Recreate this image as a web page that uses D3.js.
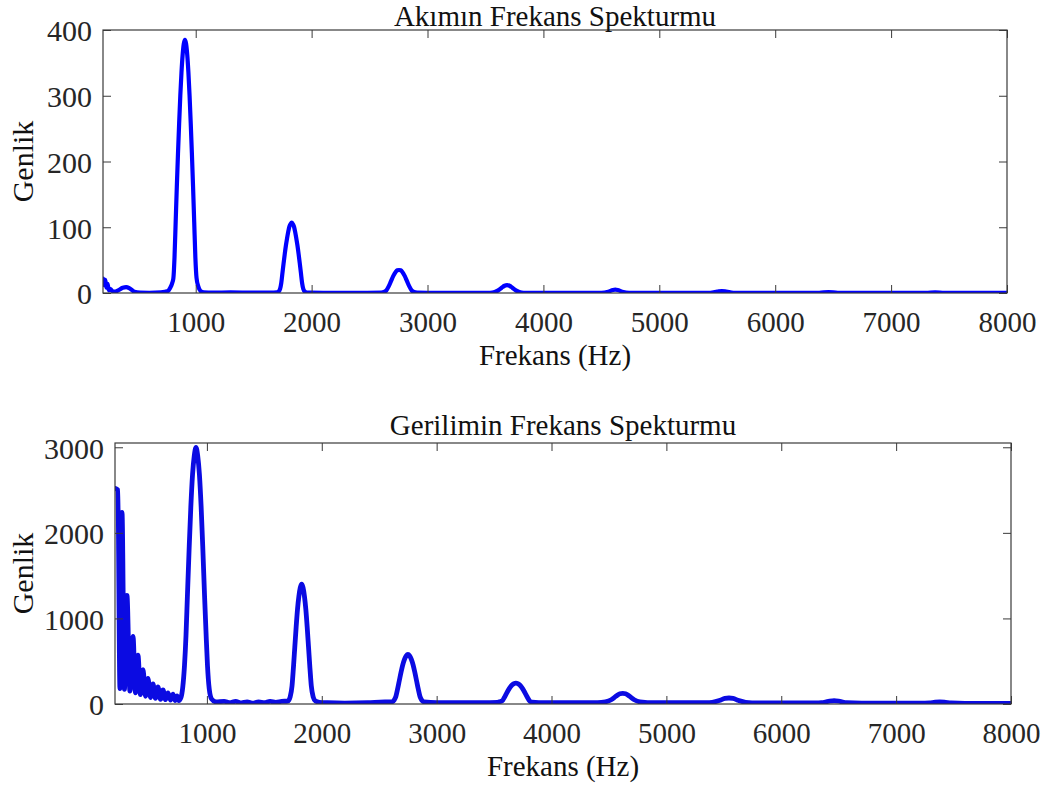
<!DOCTYPE html>
<html>
<head>
<meta charset="utf-8">
<script src="https://cdn.jsdelivr.net/npm/d3@7/dist/d3.min.js"></script>
<style>
  html, body { margin: 0; padding: 0; background: #ffffff; }
  svg { display: block; }
  text { font-family: "Liberation Serif", "Times New Roman", serif; }
</style>
</head>
<body>
<svg id="chart" width="1049" height="789"></svg>
<script>
// ---------- DATA ----------
const xTicks = [1000, 2000, 3000, 4000, 5000, 6000, 7000, 8000];
const xDomain = [200, 8000];

// Akımın (current) spectrum
const currentTitle = "Akımın Frekans Spekturmu";
const currentYTicks = [0, 100, 200, 300, 400];
const currentYDomain = [0, 400];
const currentFreq = [
  200, 210, 220, 230, 240, 250, 265, 280, 300, 330, 370, 400, 430, 470, 520, 600, 700, 760,
  780, 795, 807, 817, 827, 837, 847, 857, 867, 877, 887, 897, 907, 917, 927, 937, 947, 957, 967,
  977, 987, 997, 1007, 1022, 1042, 1070,
  1150, 1300, 1500, 1650,
  1698, 1713, 1728, 1738, 1748, 1758, 1768, 1778, 1788, 1798, 1808, 1818, 1828, 1838, 1848, 1858,
  1868, 1878, 1888, 1898, 1908, 1918, 1928, 1943, 1965, 2100, 2400,
  2600, 2625, 2645, 2665, 2685, 2705, 2725, 2740, 2754, 2768, 2783, 2803, 2823, 2843, 2863, 2883, 2910,
  3000, 3540,
  3580, 3610, 3640, 3665, 3686, 3707, 3732, 3762, 3792, 3830, 4500,
  4560, 4600, 4620, 4640, 4680, 4740, 5440,
  5500, 5540, 5580, 5640, 6380, 6460, 6540, 7300, 7380, 7460, 8000
];
const currentAmp = [
  22, 12, 20, 8, 14, 4, 6, 3, 2, 4, 8, 9, 7, 2, 0.5, 0.3, 1, 3,
  8, 14, 22, 54, 108, 162, 212, 258, 300, 335, 362, 379, 385, 379, 362, 335, 300, 258, 212,
  162, 108, 54, 23, 10, 3, 1,
  0.5, 1, 0.5, 0.5,
  1, 2, 6.4, 15, 30, 45, 59, 72, 83, 93, 101, 105, 107, 105, 101, 93,
  83, 72, 59, 45, 30, 15, 6.4, 2, 0.5, 0.3, 0.3,
  0.5, 1.5, 4, 10, 18, 26, 32, 34.5, 35, 34.5, 32, 26, 18, 10, 4, 1.5, 0.5,
  0.3, 0.3,
  1.5, 4, 8, 11, 12, 11, 8, 4, 1.5, 0.3, 0.3,
  2, 4.5, 5, 4.5, 2, 0.3, 0.3,
  2, 3, 2, 0.3, 0.3, 1.5, 0.3, 0.3, 1, 0.3, 0.3
];

// Gerilimin (voltage) spectrum
const voltageTitle = "Gerilimin Frekans Spekturmu";
const voltageYTicks = [0, 1000, 2000, 3000];
const voltageYDomain = [0, 3050];
const voltageFreq = [
  200, 225, 243, 261, 282, 304, 330, 357, 378, 400, 422, 444, 465, 487, 509, 531, 552, 574, 596,
  618, 640, 661, 683, 705, 722, 740, 755,
  775, 790, 805, 818, 830, 845, 860, 875, 890, 905, 920, 935, 950, 965, 980, 992, 1005, 1020, 1040, 1080,
  1150, 1200, 1250, 1300, 1350, 1400, 1450, 1500, 1550, 1600, 1650,
  1705, 1725, 1741, 1753, 1765, 1777, 1789, 1801, 1813, 1825, 1837, 1849, 1861, 1873, 1885, 1897,
  1909, 1925, 1945, 1980, 2050, 2200, 2400, 2550,
  2610, 2630, 2645, 2660, 2675, 2690, 2705, 2720, 2735, 2750, 2765, 2780, 2795, 2810, 2825, 2840,
  2855, 2870, 2890, 3000, 3400,
  3530, 3555, 3571, 3588, 3605, 3622, 3639, 3656, 3673, 3690, 3707, 3724, 3741, 3758, 3775, 3792,
  3809, 3830, 3950, 4400, 4470,
  4520, 4560, 4595, 4620, 4645, 4680, 4720, 4770, 4900, 5350,
  5400, 5460, 5510, 5545, 5580, 5630, 5690, 5800, 6300,
  6350, 6410, 6460, 6510, 6570, 6700, 7250,
  7290, 7340, 7380, 7420, 7480, 7600, 8000
];
const voltageAmp = [
  2520, 2500, 180, 2240, 170, 1270, 150, 790, 130, 570, 110, 400, 90, 300, 75, 235, 65, 200, 55,
  165, 50, 130, 45, 115, 40, 95, 40,
  80, 200, 450, 800, 1250, 1800, 2300, 2680, 2900, 3000, 2900, 2680, 2300, 1800, 1250, 850, 450, 180, 60, 25,
  30, 15, 30, 12, 25, 10, 25, 15, 30, 20, 30,
  35, 84, 210, 420, 660, 900, 1110, 1260, 1360, 1400, 1360, 1260, 1110, 900, 660, 420,
  210, 84, 35, 20, 15, 10, 15, 25,
  25, 45, 87, 174, 273, 371, 458, 522, 563, 580, 563, 522, 458, 371, 273, 174,
  87, 45, 25, 15, 15,
  20, 30, 37, 73, 115, 157, 194, 221, 238, 245, 238, 221, 194, 157, 115, 73,
  37, 22, 15, 15, 25,
  50, 90, 120, 125, 120, 90, 50, 25, 15, 15,
  20, 40, 65, 70, 65, 40, 20, 12, 12,
  15, 30, 38, 30, 15, 10, 10,
  12, 22, 25, 22, 12, 8, 8
];

const xLabel = "Frekans (Hz)";
const yLabel = "Genlik";

// ---------- DRAW ----------
const svg = d3.select("#chart");
const axisColor = "#3a3a3a";
const textColor = "#262626";
const serif = '"Liberation Serif", "Times New Roman", serif';

const panels = [
  { title: currentTitle, freq: currentFreq, amp: currentAmp, yDomain: currentYDomain, yTicks: currentYTicks,
    box: { l: 103, r: 1007, t: 30, b: 293 }, titleY: 26, color: "#0000ff", width: 4.2, id: "c1" },
  { title: voltageTitle, freq: voltageFreq, amp: voltageAmp, yDomain: voltageYDomain, yTicks: voltageYTicks,
    box: { l: 115, r: 1011, t: 443, b: 704 }, titleY: 435, color: "#0b0be2", width: 4.8, id: "c2" }
];

panels.forEach(p => {
  const { l, r, t, b } = p.box;
  const x = d3.scaleLinear().domain(xDomain).range([l, r]);
  const y = d3.scaleLinear().domain(p.yDomain).range([b, t]);
  const g = svg.append("g");

  svg.append("defs").append("clipPath").attr("id", p.id)
    .append("rect").attr("x", l).attr("y", t - 3).attr("width", r - l).attr("height", b - t + 3);

  const data = p.freq.map((f, i) => [f, p.amp[i]]);
  const line = d3.line().x(d => x(d[0])).y(d => y(d[1])).curve(d3.curveMonotoneX);
  g.append("path").datum(data)
    .attr("clip-path", `url(#${p.id})`)
    .attr("fill", "none").attr("stroke", p.color).attr("stroke-width", p.width)
    .attr("stroke-linejoin", "round").attr("stroke-linecap", "round")
    .attr("d", line);

  const tickLen = 8;
  const ax = g.append("g").attr("transform", `translate(0,${b})`)
    .call(d3.axisBottom(x).tickValues(xTicks).tickFormat(d3.format("d")).tickSize(-tickLen).tickSizeOuter(0));
  const axTop = g.append("g").attr("transform", `translate(0,${t})`)
    .call(d3.axisTop(x).tickValues(xTicks).tickFormat("").tickSize(-tickLen).tickSizeOuter(0));
  const ay = g.append("g").attr("transform", `translate(${l},0)`)
    .call(d3.axisLeft(y).tickValues(p.yTicks).tickFormat(d3.format("d")).tickSize(-tickLen).tickSizeOuter(0));
  const ayR = g.append("g").attr("transform", `translate(${r},0)`)
    .call(d3.axisRight(y).tickValues(p.yTicks).tickFormat("").tickSize(-tickLen).tickSizeOuter(0));

  [ax, axTop, ay, ayR].forEach(a => {
    a.select(".domain").remove();
    a.selectAll(".tick line").attr("stroke", axisColor).attr("stroke-width", 1);
  });

  ax.selectAll(".tick text")
    .attr("y", 39).attr("dy", null)
    .attr("fill", textColor).style("font-size", "29px").style("font-family", serif);
  ay.selectAll(".tick text")
    .attr("x", -11).attr("dy", "0.36em")
    .attr("fill", textColor).style("font-size", "30px").style("font-family", serif);

  g.append("rect").attr("x", l).attr("y", t).attr("width", r - l).attr("height", b - t)
    .attr("fill", "none").attr("stroke", axisColor).attr("stroke-width", 1.2);

  g.append("text").attr("x", (l + r) / 2).attr("y", p.titleY)
    .attr("text-anchor", "middle").attr("fill", "#111").style("font-size", "29px")
    .text(p.title);
  g.append("text").attr("x", (l + r) / 2).attr("y", b + 72)
    .attr("text-anchor", "middle").attr("fill", "#111").style("font-size", "29px")
    .text(xLabel);
  g.append("text").attr("transform", `translate(33,${(t + b) / 2}) rotate(-90)`)
    .attr("text-anchor", "middle").attr("fill", "#111").style("font-size", "30px")
    .text(yLabel);
});
</script>
</body>
</html>
